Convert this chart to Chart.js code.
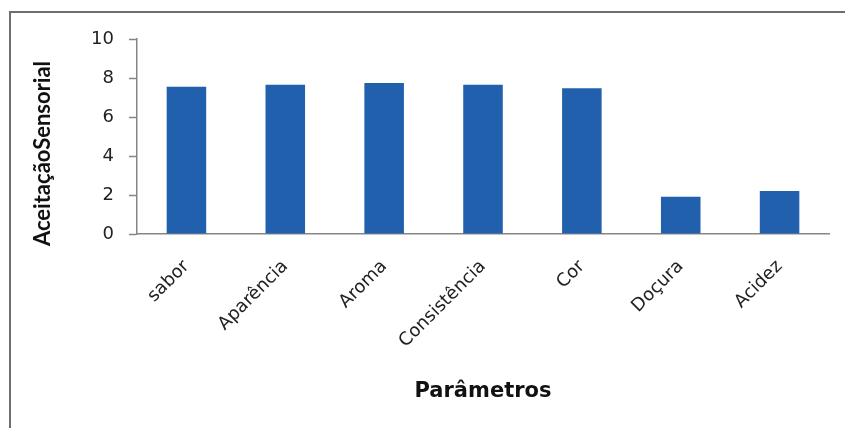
<!DOCTYPE html>
<html>
<head>
<meta charset="utf-8">
<script src="https://cdn.jsdelivr.net/npm/chart.js@4"></script>
<style>
  html, body { margin: 0; padding: 0; background: #fff; }
  #wrap { position: relative; width: 845px; height: 428px; }
</style>
</head>
<body>
<div id="wrap"><canvas id="aceitacaoChart" width="845" height="428"></canvas></div>
<script>
    // Dados do gráfico
    const parametros = ['sabor', 'Aparência', 'Aroma', 'Consistência', 'Cor', 'Doçura', 'Acidez'];
    const notas = [7.55, 7.66, 7.74, 7.66, 7.47, 1.91, 2.2];
    const yTicks = [0, 2, 4, 6, 8, 10];
    const tituloY = 'AceitaçãoSensorial';

    const fonteLarga = '"DejaVu Sans", sans-serif';
    const fonteTitulo = 'Lato, "Open Sans", sans-serif';

    // moldura (linha superior e esquerda) + título do eixo Y
    const moldura = {
        id: 'moldura',
        beforeDraw(chart) {
            const c = chart.ctx;
            c.save();
            c.fillStyle = '#fff';
            c.fillRect(0, 0, chart.width, chart.height);
            c.strokeStyle = '#6e6e6e';
            c.lineWidth = 2;
            c.beginPath();
            c.moveTo(10, 428);
            c.lineTo(10, 12);
            c.lineTo(845, 12);
            c.stroke();
            c.restore();
        },
        afterDraw(chart) {
            // o título fica um pouco abaixo do centro da área do gráfico, como no Excel
            const c = chart.ctx;
            const area = chart.chartArea;
            c.save();
            c.translate(43, (area.top + area.bottom) / 2 + 17);
            c.rotate(-Math.PI / 2);
            c.font = 'bold 22px ' + fonteTitulo;
            c.fillStyle = '#111';
            c.textAlign = 'center';
            c.textBaseline = 'middle';
            c.fillText(tituloY, 0, 0);
            c.restore();
        }
    };

    const config = {
        type: 'bar',
        data: {
            labels: parametros,
            datasets: [{
                label: 'Aceitação Sensorial',
                data: notas,
                backgroundColor: '#2060ad',
                borderWidth: 0,
                barPercentage: 0.4,
                categoryPercentage: 1
            }]
        },
        options: {
            responsive: false,
            animation: false,
            layout: { padding: { top: 39, right: 16, left: 0, bottom: 0 } },
            plugins: {
                legend: { display: false },
                tooltip: { enabled: false }
            },
            scales: {
                x: {
                    grid: { display: false, drawTicks: false },
                    border: { display: true, color: '#868686', width: 1.5 },
                    ticks: {
                        minRotation: 45,
                        maxRotation: 45,
                        padding: 22,
                        labelOffset: 0,
                        color: '#222',
                        font: { family: fonteLarga, size: 18 }
                    },
                    title: {
                        display: true,
                        text: 'Parâmetros',
                        color: '#111',
                        font: { family: fonteLarga, size: 21, weight: 'bold' },
                        padding: { top: 0, bottom: 24 }
                    },
                    afterFit(scale) { scale.height = 194; }
                },
                y: {
                    min: 0,
                    max: 10,
                    afterBuildTicks(scale) {
                        scale.ticks = yTicks.map(v => ({ value: v }));
                    },
                    grid: {
                        drawOnChartArea: false,
                        drawTicks: true,
                        tickLength: 8,
                        tickColor: '#868686',
                        tickWidth: 1.5
                    },
                    border: { display: true, color: '#868686', width: 1.5 },
                    ticks: {
                        padding: 15,
                        color: '#222',
                        font: { family: fonteLarga, size: 18 }
                    },
                    title: { display: false },
                    afterFit(scale) { scale.width = 137; }
                }
            }
        },
        plugins: [moldura]
    };

    const ctx = document.getElementById('aceitacaoChart').getContext('2d');
    new Chart(ctx, config);
</script>
</body>
</html>
